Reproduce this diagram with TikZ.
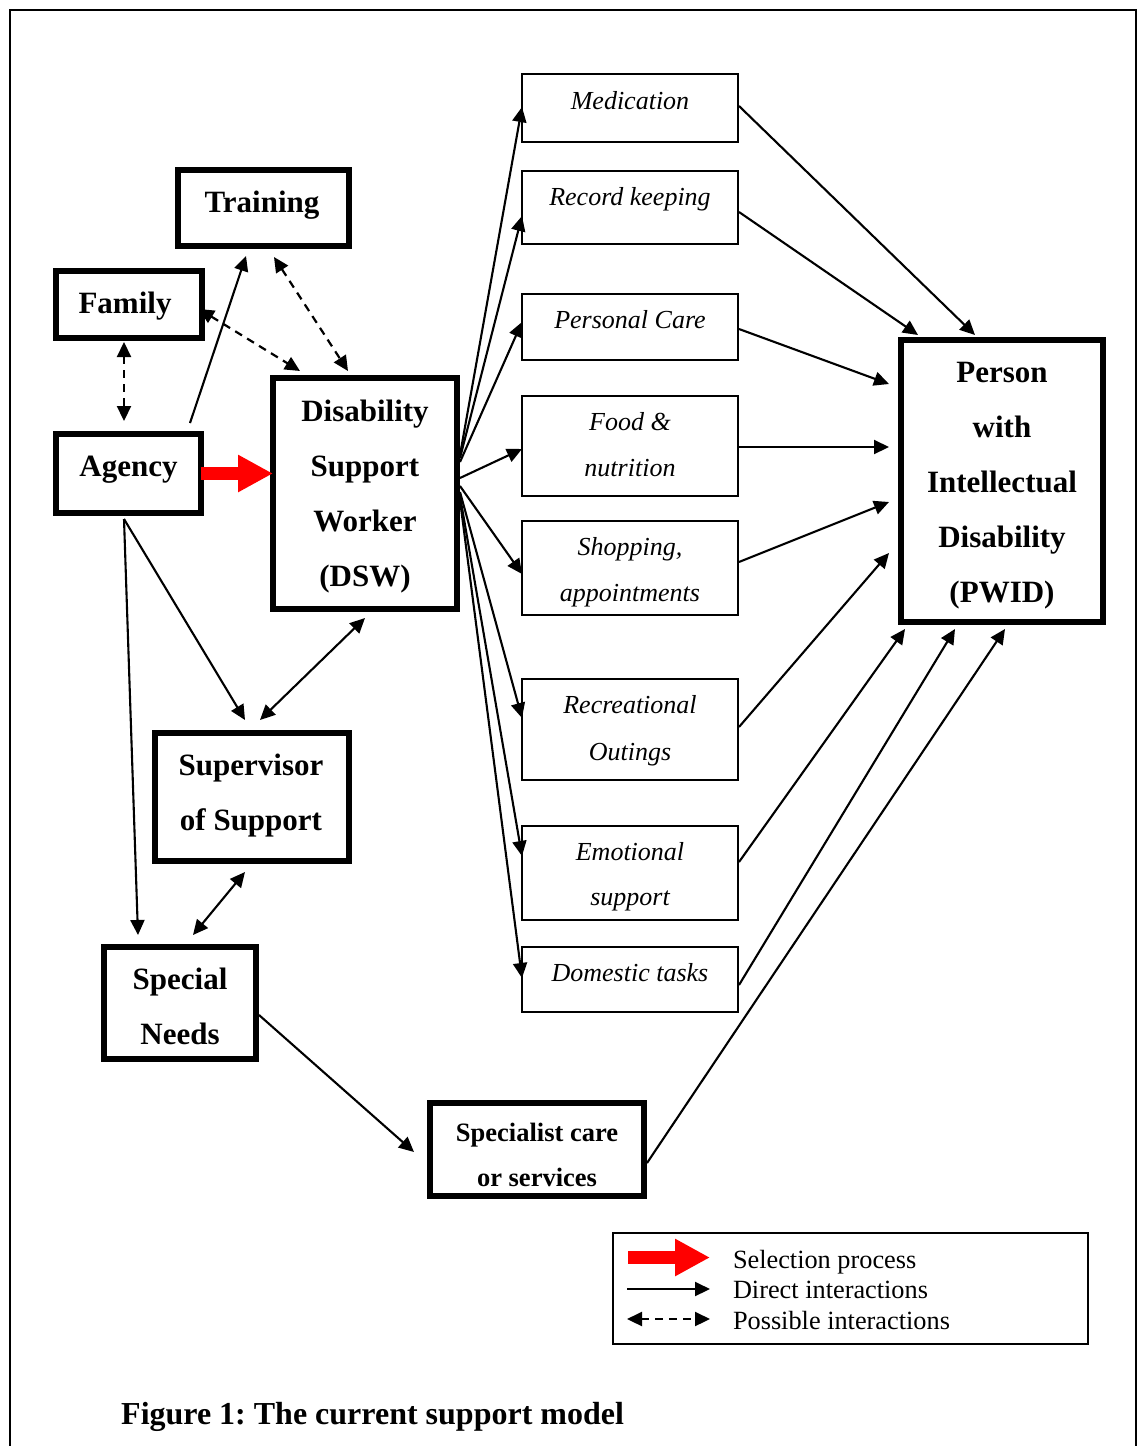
\documentclass[tikz,border=0pt]{standalone}
\usepackage{fontspec}
\setmainfont{Liberation Serif}
\usetikzlibrary{arrows.meta,calc}
\frenchspacing

\tikzset{
  thickbox/.style={draw, line width=6pt, inner sep=0pt, outer sep=0pt},
  taskbox/.style={draw, line width=1.8pt, inner sep=0pt, outer sep=0pt, minimum width=216pt},
  keybox/.style={draw, line width=1.8pt, inner sep=0pt, outer sep=0pt},
  lbl/.style={anchor=base, inner sep=0pt, outer sep=0pt},
  bigbold/.style={lbl, font=\fontsize{31}{37}\selectfont\bfseries},
  midbold/.style={lbl, font=\fontsize{26.5}{32}\selectfont\bfseries},
  taskit/.style={lbl, font=\fontsize{26}{31}\selectfont\itshape},
  keytext/.style={anchor=base west, inner sep=0pt, outer sep=0pt, font=\fontsize{26.3}{31}\selectfont},
  tip/.tip={Triangle[length=15pt,width=14pt]},
  direct/.style={line width=2.1pt, -tip},
  mutual/.style={line width=2.1pt, tip-tip},
  possible/.style={line width=2.2pt, tip-tip, dash pattern=on 8pt off 6pt},
  selection/.style={draw=red, line width=12.5pt, -{Triangle[length=35pt,width=35pt,fill=red]}}
}

\begin{document}
\begin{tikzpicture}[x=1pt,y=-1pt]
\useasboundingbox (0,0) rectangle (1138,1446);

% page frame (open at the bottom)
\draw[line width=2pt] (10,1446) -- (10,10) -- (1136,10) -- (1136,1446);

% main actors
\node[thickbox, minimum width=171pt, minimum height=76pt]  (training)   at (263.5,208)   {};
\node[thickbox, minimum width=146pt, minimum height=67pt]  (family)     at (129,304.5)   {};
\node[thickbox, minimum width=145pt, minimum height=79pt]  (agency)     at (128.5,473.5) {};
\node[thickbox, minimum width=184pt, minimum height=231pt] (dsw)        at (365,493.5)   {};
\node[thickbox, minimum width=194pt, minimum height=128pt] (super)      at (252,797)     {};
\node[thickbox, minimum width=152pt, minimum height=112pt] (special)    at (180,1003)    {};
\node[thickbox, minimum width=214pt, minimum height=93pt]  (specialist) at (537,1149.5)  {};
\node[thickbox, minimum width=202pt, minimum height=282pt] (pwid)       at (1002,481)    {};

\node[bigbold] (trainingT) at (262,212) {Training};
\node[bigbold] (familyT)   at (125,313) {Family};
\node[bigbold] (agencyT)   at (128.5,476) {Agency};
\node[bigbold] (dswA) at (365,421) {Disability};
\node[bigbold] (dswB) at (365,476) {Support};
\node[bigbold] (dswC) at (365,531) {Worker};
\node[bigbold] (dswD) at (365,586) {(DSW)};
\node[bigbold] (superA) at (251,775) {Supervisor};
\node[bigbold] (superB) at (251,830) {of Support};
\node[bigbold] (specialA) at (180,989) {Special};
\node[bigbold] (specialB) at (180,1044) {Needs};
\node[midbold] (specialistA) at (537,1141) {Specialist care};
\node[midbold] (specialistB) at (537,1186) {or services};
\node[bigbold] (pwidA) at (1002,382) {Person};
\node[bigbold] (pwidB) at (1002,437) {with};
\node[bigbold] (pwidC) at (1002,492) {Intellectual};
\node[bigbold] (pwidD) at (1002,547) {Disability};
\node[bigbold] (pwidE) at (1002,602) {(PWID)};

% support tasks
\node[taskbox, minimum height=68pt]  (med)  at (630,108)   {};
\node[taskbox, minimum height=73pt]  (rec)  at (630,207.5) {};
\node[taskbox, minimum height=66pt]  (care) at (630,327)   {};
\node[taskbox, minimum height=100pt] (food) at (630,446)   {};
\node[taskbox, minimum height=94pt]  (shop) at (630,568)   {};
\node[taskbox, minimum height=101pt] (recr) at (630,729.5) {};
\node[taskbox, minimum height=94pt]  (emo)  at (630,873)   {};
\node[taskbox, minimum height=65pt]  (dom)  at (630,979.5) {};

\node[taskit] (medT)   at (630,109) {Medication};
\node[taskit] (recT)   at (630,205) {Record keeping};
\node[taskit] (careT)  at (630,328) {Personal Care};
\node[taskit] (foodA)  at (630,430) {Food \&};
\node[taskit] (foodB)  at (630,476) {nutrition};
\node[taskit] (shopA)  at (630,555) {Shopping,};
\node[taskit] (shopB)  at (630,601) {appointments};
\node[taskit] (recrA)  at (630,713) {Recreational};
\node[taskit] (recrB)  at (630,760) {Outings};
\node[taskit] (emoA)   at (630,860) {Emotional};
\node[taskit] (emoB)   at (630,905) {support};
\node[taskit] (domT)   at (630,981) {Domestic tasks};

% connectors on the left
\draw[direct]   ($(agency.north)+(61.5,-11)$) -- ($(training.south)+(-17.5,10)$);
\draw[possible] ($(family.south)+(-5,4)$) -- ($(agency.north)+(-4.5,-13)$);
\draw[possible] ($(family.east)+(-3,4.5)$) -- ($(dsw.north)+(-65,-7)$);
\draw[possible] ($(training.south)+(10.5,11)$) -- ($(dsw.north)+(-17,-7)$);
\draw[selection] (agency.east) -- (agency.east -| dsw.west);
\draw[direct]   ($(agency.south)+(-4.5,6)$) -- ($(super.north)+(-7,-13)$);
\draw[direct]   ($(agency.south)+(-4.5,6)$) -- ($(special.north)+(-42,-12)$);
\draw[mutual]   ($(dsw.south)+(0,9)$) -- ($(super.north)+(8,-13)$);
\draw[mutual]   ($(super.south)+(-7,11)$) -- ($(special.north)+(13,-12)$);
\draw[direct]   ($(special.east)+(3,12)$) -- ($(specialist.west)+(-16,2.5)$);

% worker to tasks
\draw[direct] ($(dsw.east)+(3,-38.5)$) -- ($(med.west)+(0,-1)$);
\draw[direct] ($(dsw.east)+(3,-35.5)$) -- ($(rec.west)+(0,8.5)$);
\draw[direct] ($(dsw.east)+(3,-31.5)$) -- ($(care.west)+(0,-5)$);
\draw[direct] ($(dsw.east)+(3,-15.5)$) -- ($(food.west)+(0,3)$);
\draw[direct] ($(dsw.east)+(3,-7.5)$)  -- ($(shop.west)+(0,6)$);
\draw[direct] ($(dsw.east)+(3,-1.5)$)  -- ($(recr.west)+(0,-11.5)$);
\draw[direct] ($(dsw.east)+(3,2.5)$)   -- ($(emo.west)+(0,-17)$);
\draw[direct] ($(dsw.east)+(3,6.5)$)   -- ($(dom.west)+(0,-1.5)$);

% tasks to the person
\draw[direct] ($(med.east)+(1,-2)$)    -- ($(pwid.north)+(-27,-5)$);
\draw[direct] ($(rec.east)+(1,4.5)$)   -- ($(pwid.north)+(-84,-5)$);
\draw[direct] ($(care.east)+(1,2)$)    -- ($(pwid.west)+(-12,-97)$);
\draw[direct] ($(food.east)+(1,1)$)    -- ($(pwid.west)+(-12,-34)$);
\draw[direct] ($(shop.east)+(1,-6)$)   -- ($(pwid.west)+(-12,21)$);
\draw[direct] ($(recr.east)+(1,-2.5)$) -- ($(pwid.west)+(-12,72)$);
\draw[direct] ($(emo.east)+(1,-11)$)   -- ($(pwid.south)+(-97,7)$);
\draw[direct] ($(dom.east)+(1,5.5)$)   -- ($(pwid.south)+(-47,7)$);
\draw[direct] ($(specialist.east)+(3,13.5)$) -- ($(pwid.south)+(3,7)$);

% key
\node[keybox, minimum width=475pt, minimum height=111pt] (legend) at (850.5,1288.5) {};
\coordinate (selA) at ($(legend.west)+(15,-31)$);
\coordinate (selB) at ($(legend.west)+(97,-31)$);
\coordinate (dirA) at ($(legend.west)+(14,0.5)$);
\coordinate (dirB) at ($(legend.west)+(97,0.5)$);
\coordinate (posA) at ($(legend.west)+(14,30.5)$);
\coordinate (posB) at ($(legend.west)+(97,30.5)$);
\draw[selection] (selA) -- (selB);
\draw[direct] (dirA) -- (dirB);
\draw[possible] (posA) -- (posB);
\node[keytext] (keySel) at (733,1268) {Selection process};
\node[keytext] (keyDir) at (733,1298) {Direct interactions};
\node[keytext] (keyPos) at (733,1329) {Possible interactions};

% caption
\node[anchor=base west, inner sep=0pt, font=\fontsize{32}{38}\selectfont\bfseries] (caption) at (121,1424) {Figure 1: The current support model};
\end{tikzpicture}
\end{document}
